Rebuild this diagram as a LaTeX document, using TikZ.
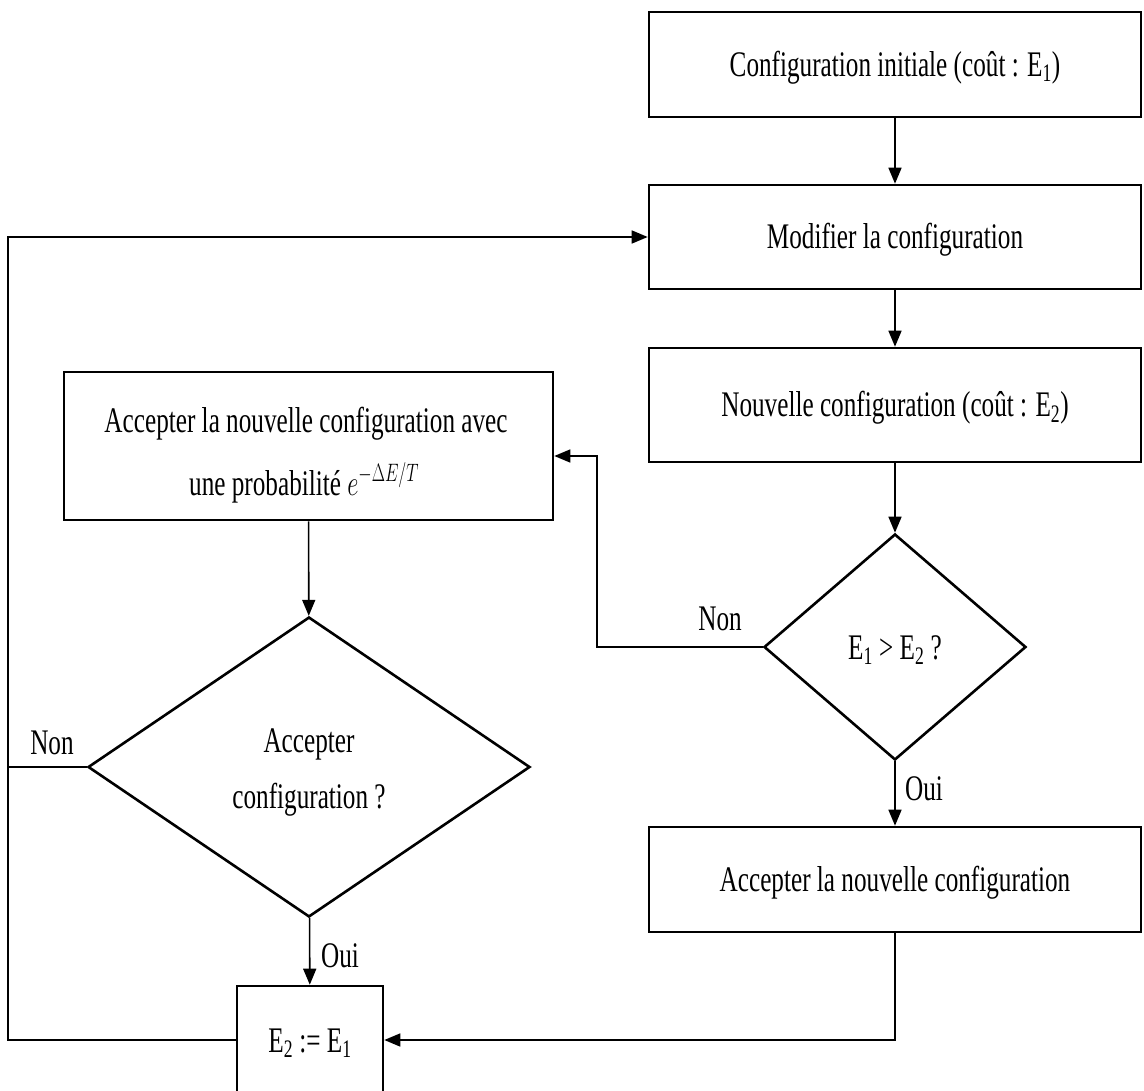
\RequirePackage{fix-cm}
\documentclass[tikz,border=0pt]{standalone}
\usepackage{graphicx}
\usepackage{fontspec}
\setmainfont{Liberation Serif}[FakeStretch=0.7]
\usetikzlibrary{arrows.meta,shapes.geometric}

\tikzset{
  txt/.style={font=\fontsize{36}{44}\selectfont},
  % single-line text centred on its capital height
  capc/.style={text height=24pt, text depth=0pt},
  box/.style={txt, capc, draw, line width=2.6pt, inner sep=0pt},
  decision/.style={txt, capc, draw, diamond, line width=2.6pt, inner sep=0pt},
  line/.style={txt, anchor=base, inner sep=0pt},
  conn/.style={line width=1.6pt},
  arrow/.style={conn, -{Triangle[length=16pt,width=13pt]}},
  lbl/.style={txt, capc, inner sep=0pt}
}

\begin{document}
\begin{tikzpicture}[x=1pt, y=-1pt]
  \path[use as bounding box, clip] (0,0) rectangle (1144,1091);

  % right column
  \node[box, minimum width=492pt, minimum height=105pt] (b1) at (895,64.5)
    {Configuration initiale (coût : E\textsubscript{1})};
  \node[box, minimum width=492pt, minimum height=104pt] (b2) at (895,237)
    {Modifier la configuration};
  \node[box, minimum width=492pt, minimum height=114pt] (b3) at (895,405)
    {Nouvelle configuration (coût : E\textsubscript{2})};
  \node[decision, minimum width=262pt, minimum height=226pt] (d1) at (895,647)
    {E\textsubscript{1} > E\textsubscript{2} ?};
  \node[box, minimum width=492pt, minimum height=105pt] (b4) at (895,879.5)
    {Accepter la nouvelle configuration};

  % left column
  \node[box, minimum width=489pt, minimum height=148pt] (lb) at (308.5,446) {};
  \node[line] (lb1) at (306,432) {Accepter la nouvelle configuration avec};
  \node[line] (lb2) at (304,495)
    {une probabilité \scalebox{0.68}[1]{$e^{-\Delta E/T}$}};

  \node[decision, minimum width=442pt, minimum height=300pt] (d2) at (309,767) {};
  \node[line] (d2a) at (309,752) {Accepter};
  \node[line] (d2b) at (309,808) {configuration ?};

  \node[box, minimum width=146pt, minimum height=108pt] (e2) at (310,1040)
    {E\textsubscript{2} := E\textsubscript{1}};

  % routing points
  \coordinate (k1) at (597,456);
  \coordinate (k2) at (8,237);

  % connectors
  \draw[arrow] (b1) -- (b2);
  \draw[arrow] (b2) -- (b3);
  \draw[arrow] (b3) -- (d1);
  \draw[arrow] (d1) -- (b4);
  \draw[arrow] (d1.west) -| (k1) -- (lb.east |- k1);
  \draw[arrow] (lb) -- (d2);
  \draw[arrow] (d2) -- (e2);
  \draw[arrow] (b4.south) |- (e2.east);
  \draw[arrow] (e2.west) -| (k2) -- (b2.west);
  \draw[conn] (d2.west) -- (d2.west -| k2);

  % branch labels
  \node[lbl] (non1) at (720,618) {Non};
  \node[lbl] (oui1) at (924,788) {Oui};
  \node[lbl] (non2) at (52,742) {Non};
  \node[lbl] (oui2) at (340,955) {Oui};
\end{tikzpicture}
\end{document}
